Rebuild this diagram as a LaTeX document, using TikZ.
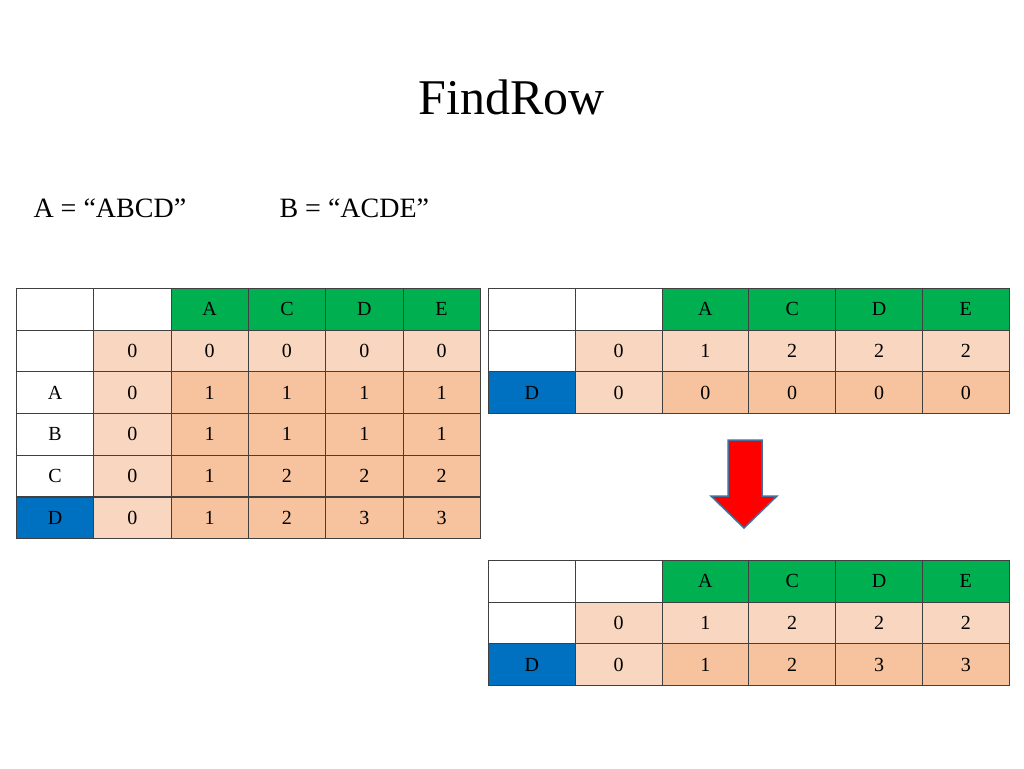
\documentclass[tikz,border=0pt]{standalone}
\usepackage{fontspec}
\setmainfont{Liberation Serif}
\begin{document}
\definecolor{w}{HTML}{FFFFFF}
\definecolor{g}{HTML}{00B050}
\definecolor{l}{HTML}{F9D6BF}
\definecolor{d}{HTML}{F7C29E}
\definecolor{b}{HTML}{0070C0}
\definecolor{ar}{HTML}{FF0000}
\definecolor{ab}{HTML}{41719C}
\begin{tikzpicture}[x=1pt,y=-1pt,
  cell/.style={draw=black!75,line width=0.8pt,minimum width=#1,minimum height=41.5pt,inner sep=0pt,anchor=north west,font=\fontsize{20}{20}\selectfont}]
\useasboundingbox (0,0) rectangle (1024,768);
\node (title) at (512,97) {\fontsize{50}{50}\selectfont FindRow};
\node[anchor=west] (sa) at (30,208) {\fontsize{28}{28}\selectfont A = “ABCD”};
\node[anchor=west] (sb) at (276,208) {\fontsize{28}{28}\selectfont B = “ACDE”};
% left table
\foreach \r/\row in {0/{w/{},w/{},g/A,g/C,g/D,g/E},
  1/{w/{},l/0,l/0,l/0,l/0,l/0},
  2/{w/A,l/0,d/1,d/1,d/1,d/1},
  3/{w/B,l/0,d/1,d/1,d/1,d/1},
  4/{w/C,l/0,d/1,d/2,d/2,d/2},
  5/{b/D,l/0,d/1,d/2,d/3,d/3}}{
  \foreach [count=\c from 0] \f/\t in \row {
    \node[cell=77.3pt,fill=\f] (L\r-\c) at ({16+77.3*\c},{288+41.7*\r}) {\t};
  }
}
% right top
\foreach \r/\row in {0/{w/{},w/{},g/A,g/C,g/D,g/E},
  1/{w/{},l/0,l/1,l/2,l/2,l/2},
  2/{b/D,l/0,d/0,d/0,d/0,d/0}}{
  \foreach [count=\c from 0] \f/\t in \row {
    \node[cell=86.8pt,fill=\f] (T\r-\c) at ({488+86.8*\c},{288+41.7*\r}) {\t};
  }
}
% right bottom
\foreach \r/\row in {0/{w/{},w/{},g/A,g/C,g/D,g/E},
  1/{w/{},l/0,l/1,l/2,l/2,l/2},
  2/{b/D,l/0,d/1,d/2,d/3,d/3}}{
  \foreach [count=\c from 0] \f/\t in \row {
    \node[cell=86.8pt,fill=\f] (B\r-\c) at ({488+86.8*\c},{560+41.7*\r}) {\t};
  }
}
\draw[fill=ar,draw=ab,line width=1.5pt] (728,440) -- (762,440) -- (762,496) -- (777,496) -- (744,528) -- (711,496) -- (728,496) -- cycle;
\end{tikzpicture}
\end{document}
